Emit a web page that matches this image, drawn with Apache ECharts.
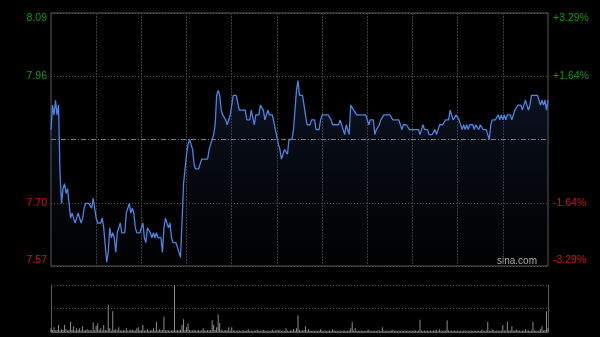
<!DOCTYPE html>
<html><head><meta charset="utf-8">
<script src="https://cdn.jsdelivr.net/npm/echarts@6.0.0/dist/echarts.min.js"></script>
<style>html,body{margin:0;padding:0;background:#000;}#c{width:600px;height:337px;}</style>
</head><body><div id="c"></div>
<script>
const preClose = 7.83;
const rangePct = 3.29;
const leftTickLabels = ['7.57', '7.70', '', '7.96', '8.09'];
const rightTickLabels = ['-3.29%', '-1.64%', '', '+1.64%', '+3.29%'];
const watermark = 'sina.com';

const prices = [
7.85,7.90,7.88,7.91,7.88,7.90,7.76,7.70,7.73,7.74,
7.72,7.73,7.70,7.67,7.68,7.68,7.66,7.67,7.68,7.68,
7.66,7.67,7.69,7.70,7.70,7.70,7.70,7.69,7.71,7.71,
7.67,7.66,7.66,7.66,7.67,7.65,7.65,7.58,7.60,7.65,
7.63,7.64,7.63,7.60,7.64,7.65,7.66,7.64,7.64,7.64,
7.68,7.68,7.70,7.68,7.69,7.68,7.65,7.64,7.64,7.64,
7.64,7.66,7.63,7.62,7.65,7.65,7.64,7.63,7.64,7.63,
7.64,7.63,7.63,7.63,7.60,7.65,7.67,7.67,7.65,7.66,
7.63,7.62,7.62,7.62,7.61,7.60,7.59,7.66,7.74,7.77,
7.80,7.82,7.83,7.83,7.81,7.78,7.77,7.77,7.77,7.78,
7.79,7.79,7.79,7.79,7.79,7.81,7.81,7.83,7.84,7.86,
7.92,7.93,7.92,7.89,7.88,7.88,7.87,7.86,7.86,7.88,
7.88,7.92,7.92,7.92,7.92,7.89,7.89,7.89,7.89,7.89,
7.87,7.87,7.87,7.89,7.89,7.86,7.88,7.88,7.88,7.90,
7.90,7.89,7.87,7.88,7.89,7.88,7.88,7.88,7.88,7.85,
7.85,7.82,7.81,7.79,7.80,7.81,7.81,7.80,7.83,7.83,
7.83,7.85,7.85,7.93,7.95,7.92,7.92,7.92,7.90,7.88,
7.86,7.86,7.86,7.87,7.87,7.87,7.85,7.85,7.85,7.87,
7.88,7.88,7.88,7.88,7.88,7.88,7.87,7.86,7.86,7.86,
7.86,7.86,7.87,7.87,7.85,7.84,7.86,7.86,7.84,7.90,
7.90,7.89,7.89,7.88,7.88,7.88,7.88,7.88,7.88,7.88,
7.88,7.86,7.87,7.87,7.87,7.84,7.85,7.85,7.86,7.87,
7.87,7.88,7.88,7.88,7.88,7.88,7.88,7.87,7.87,7.87,
7.87,7.87,7.87,7.85,7.86,7.86,7.86,7.86,7.85,7.85,
7.85,7.85,7.85,7.85,7.85,7.84,7.85,7.86,7.85,7.85,
7.85,7.84,7.84,7.84,7.84,7.85,7.84,7.85,7.86,7.86,
7.86,7.86,7.87,7.87,7.87,7.89,7.88,7.87,7.87,7.88,
7.88,7.87,7.86,7.85,7.86,7.85,7.86,7.85,7.86,7.86,
7.86,7.85,7.86,7.86,7.85,7.86,7.86,7.85,7.85,7.85,
7.84,7.83,7.86,7.87,7.87,7.87,7.87,7.88,7.87,7.88,
7.87,7.88,7.87,7.88,7.88,7.88,7.87,7.87,7.89,7.89,
7.90,7.90,7.90,7.89,7.90,7.91,7.90,7.89,7.90,7.92,
7.92,7.92,7.92,7.92,7.91,7.90,7.91,7.90,7.91,7.89,
7.91
];

const volumes = [
8,4,10,3,4,15,3,6,4,15,
6,3,4,22,5,12,3,8,4,8,
3,12,3,4,6,3,4,3,20,4,
13,18,4,8,3,15,4,3,58,8,
3,44,4,6,3,10,3,3,4,3,
8,3,3,4,5,3,3,8,10,3,
4,15,3,3,6,3,3,4,8,3,
22,3,6,3,4,33,3,4,3,3,
3,4,100,3,4,3,5,15,27,4,
10,18,4,3,3,5,3,3,4,3,
3,8,3,3,4,3,4,25,15,4,
10,37,19,4,3,3,4,3,10,3,
10,3,3,2,3,3,2,3,3,2,
3,6,2,3,2,3,3,5,2,3,
2,5,3,2,3,2,3,5,2,3,
4,3,5,2,3,2,8,3,2,3,
3,6,3,8,35,4,3,3,4,12,
3,6,3,2,3,2,3,2,3,6,
3,2,3,2,3,3,2,6,3,2,
3,2,3,2,3,3,2,3,3,8,
22,3,8,2,3,2,3,2,3,2,
3,5,2,3,2,3,2,3,3,2,
10,3,2,3,2,3,3,5,2,3,
2,3,2,3,2,3,2,3,2,3,
2,3,3,2,3,26,3,2,3,2,
3,2,3,2,3,3,5,2,6,3,
2,3,3,25,3,2,3,2,3,2,
3,2,3,2,3,3,2,3,2,3,
2,3,2,3,3,2,5,3,2,3,
22,3,2,6,3,2,3,3,2,3,
15,3,3,22,3,3,12,3,3,5,
3,3,2,3,3,6,3,3,2,3,
22,3,3,2,3,6,12,3,4,44,
8
];

// time categories: 09:30-12:00, 13:01-16:00
const times = [];
function pad(n){return (n<10?'0':'')+n;}
for (let m = 9*60+30; m <= 12*60; m++) times.push(pad(Math.floor(m/60))+':'+pad(m%60));
for (let m = 13*60+1; m <= 16*60; m++) times.push(pad(Math.floor(m/60))+':'+pad(m%60));

const step = preClose * rangePct / 100 / 2;
const priceSteps = prices.map(p => (p - preClose) / step);
const maxVol = Math.max.apply(null, volumes);

const GREEN = '#129a12', RED = '#d41515';
const FONT = 'Liberation Sans, Arial, sans-serif';
const FS = 10.5;
function richFor(){
  return {
    gt: {color: GREEN, fontSize: FS, fontFamily: FONT, padding: [11,0,0,0]},
    g:  {color: GREEN, fontSize: FS, fontFamily: FONT},
    r:  {color: RED, fontSize: FS, fontFamily: FONT},
    rb: {color: RED, fontSize: FS, fontFamily: FONT, padding: [0,0,12,0]}
  };
}
function fmt(labels){
  return function(v){
    const idx = Math.round(v + 2);
    const t = labels[idx];
    if (!t) return '';
    if (idx === 4) return '{gt|' + t + '}';
    if (idx === 3) return '{g|' + t + '}';
    if (idx === 1) return '{r|' + t + '}';
    return '{rb|' + t + '}';
  };
}

const chart = echarts.init(document.getElementById('c'), null, {renderer: 'canvas'});
chart.setOption({
  backgroundColor: '#000',
  animation: false,
  grid: [
    {left: 51, top: 13, width: 497, height: 253, show: true, borderColor: '#5a5a5a', borderWidth: 1, backgroundColor: 'transparent'},
    {left: 51, top: 285, width: 497, height: 47, show: false}
  ],
  xAxis: [
    {type: 'category', gridIndex: 0, data: times, boundaryGap: false,
     axisLine: {show: false}, axisTick: {show: false}, axisLabel: {show: false},
     splitLine: {show: true, interval: function(i){ return i % 30 === 0 && i > 0 && i < times.length - 1; },
                 lineStyle: {color: '#3c3c3c', type: [2, 1], width: 1}}},
    {type: 'category', gridIndex: 1, data: times, boundaryGap: false,
     axisLine: {show: true, lineStyle: {color: '#5a5a5a', width: 1}}, axisTick: {show: false}, axisLabel: {show: false},
     splitLine: {show: false}}
  ],
  yAxis: [
    {type: 'value', gridIndex: 0, min: -2, max: 2, interval: 1, position: 'left',
     axisLine: {show: false}, axisTick: {show: false},
     axisLabel: {show: true, margin: 4, formatter: fmt(leftTickLabels), rich: richFor()},
     splitLine: {show: true, lineStyle: {color: ['#5a5a5a', '#555', 'transparent', '#555', '#5a5a5a'], type: [1, 2], width: 1}}},
    {type: 'value', gridIndex: 0, min: -2, max: 2, interval: 1, position: 'right',
     axisLine: {show: false}, axisTick: {show: false},
     axisLabel: {show: true, margin: 5, formatter: fmt(rightTickLabels), rich: richFor()},
     splitLine: {show: false}},
    {type: 'value', gridIndex: 1, min: 0, max: maxVol, interval: maxVol / 2, position: 'left',
     axisLine: {show: true, lineStyle: {color: '#5a5a5a', width: 1}}, axisTick: {show: false}, axisLabel: {show: false},
     splitLine: {show: true, lineStyle: {color: '#555', type: [1, 2], width: 1}}},
    {type: 'value', gridIndex: 1, min: 0, max: maxVol, interval: maxVol / 2, position: 'right',
     axisLine: {show: true, lineStyle: {color: '#5a5a5a', width: 1}}, axisTick: {show: false}, axisLabel: {show: false},
     splitLine: {show: false}}
  ],
  series: [
    {type: 'line', xAxisIndex: 0, yAxisIndex: 0, data: priceSteps, symbol: 'none', smooth: false,
     lineStyle: {color: '#4b84e2', width: 1.3},
     areaStyle: {origin: 'start', color: new echarts.graphic.LinearGradient(0, 0, 0, 1, [
        {offset: 0, color: 'rgba(38,64,118,0.45)'},
        {offset: 1, color: 'rgba(20,28,48,0.08)'}
     ])},
     markLine: {silent: true, symbol: 'none', label: {show: false},
       lineStyle: {color: '#7a7a7a', type: [5, 2, 1, 2], width: 1},
       data: [{yAxis: 0}]}
    },
    {type: 'bar', xAxisIndex: 1, yAxisIndex: 2, data: volumes, barWidth: 1,
     itemStyle: {color: '#8c8c8c'}}
  ],
  graphic: [
    {type: 'text', right: 63, top: 256, style: {text: watermark, fill: '#b4b4b4', fontSize: 10, fontFamily: FONT}}
  ]
});
</script>
</body></html>
